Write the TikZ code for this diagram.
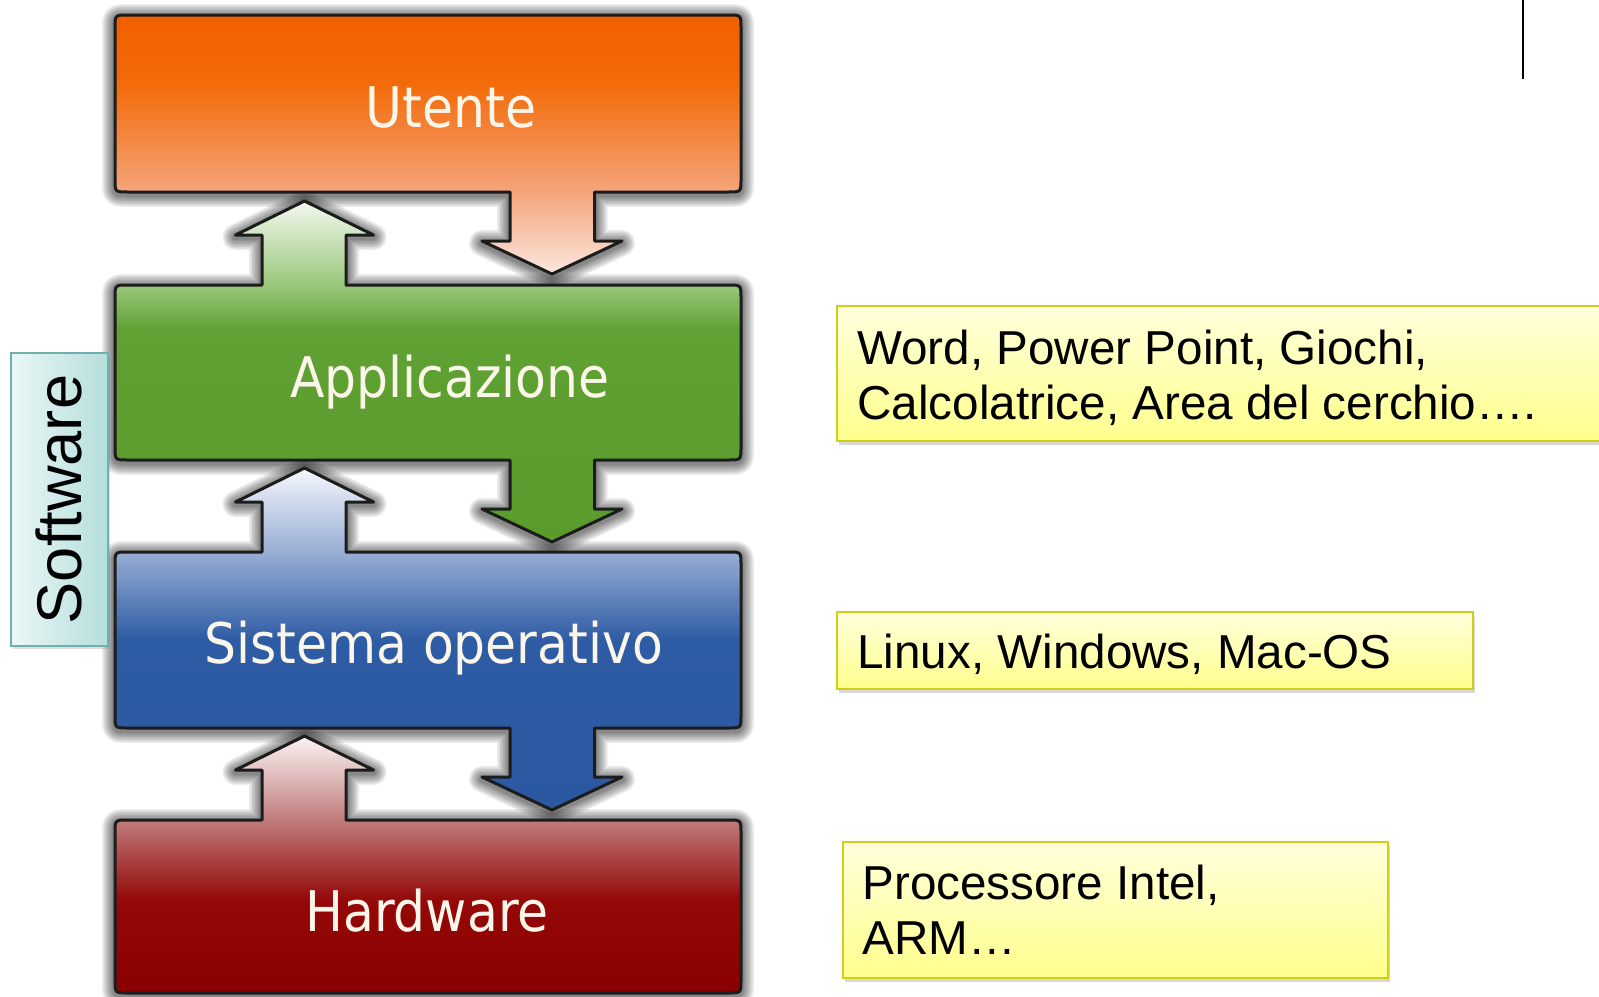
\documentclass[tikz,border=0pt]{standalone}
\usepackage{fontspec}
\setmainfont{Liberation Sans}
\newfontfamily\layerfont[FakeStretch=0.9]{DejaVu Sans}
\usetikzlibrary{shadows}

% layer palette
\definecolor{oTop}{HTML}{F26000}
\definecolor{oMid}{HTML}{F36A08}
\definecolor{oLow}{HTML}{F4A47A}
\definecolor{oTip}{HTML}{FAE6DE}
\definecolor{gTip}{HTML}{F4F9F0}
\definecolor{gTop}{HTML}{98C67A}
\definecolor{gMid}{HTML}{5FA132}
\definecolor{gBot}{HTML}{5A9C2C}
\definecolor{bTip}{HTML}{F5F7FC}
\definecolor{bTop}{HTML}{98AED4}
\definecolor{bMid}{HTML}{2E5CA4}
\definecolor{bBot}{HTML}{2B58A0}
\definecolor{rTip}{HTML}{FBF3F3}
\definecolor{rTop}{HTML}{C07C7C}
\definecolor{rMid}{HTML}{950808}
\definecolor{rBot}{HTML}{8A0000}
\definecolor{lineDark}{HTML}{1C1C1C}
\definecolor{layerTxt}{HTML}{FCF6EA}
% note boxes
\definecolor{yTop}{HTML}{FFFFDC}
\definecolor{yBot}{HTML}{FFFF8C}
\definecolor{yEdge}{HTML}{CFCF1A}
\definecolor{swLeft}{HTML}{EBF7F7}
\definecolor{swRight}{HTML}{B4DEDC}
\definecolor{swEdge}{HTML}{6FAFAD}

% vertical shadings: 25bp = bottom of the shape, 75bp = top
\pgfdeclareverticalshading{orangefill}{100bp}{color(0bp)=(oTip); color(25bp)=(oTip); color(41bp)=(oLow); color(62bp)=(oMid); color(75bp)=(oTop); color(100bp)=(oTop)}
\pgfdeclareverticalshading{greenfill}{100bp}{color(0bp)=(gBot); color(25bp)=(gBot); color(56bp)=(gMid); color(62.6bp)=(gTop); color(75bp)=(gTip); color(100bp)=(gTip)}
\pgfdeclareverticalshading{bluefill}{100bp}{color(0bp)=(bBot); color(25bp)=(bBot); color(49.9bp)=(bMid); color(62.7bp)=(bTop); color(75bp)=(bTip); color(100bp)=(bTip)}
\pgfdeclareverticalshading{redfill}{100bp}{color(0bp)=(rBot); color(25bp)=(rBot); color(43.1bp)=(rMid); color(58.7bp)=(rTop); color(75bp)=(rTip); color(100bp)=(rTip)}

% outlines of the four layers, each joined with its arrows
\def\orangepath{(128,15) -- (728,15) .. controls (741,15) .. (741,28) -- (741,179) .. controls (741,192) .. (728,192) -- (594.5,192) -- (594.5,241) -- (622,241) -- (552,274) -- (482,241) -- (510,241) -- (510,192) -- (128,192) .. controls (115,192) .. (115,179) -- (115,28) .. controls (115,15) .. (128,15) -- cycle}
\def\greenpath{(128,285) -- (262,285) -- (262,235) -- (235.5,235) -- (304.5,201) -- (373.5,235) -- (346,235) -- (346,285) -- (728,285) .. controls (741,285) .. (741,298) -- (741,447) .. controls (741,460) .. (728,460) -- (594.5,460) -- (594.5,509) -- (622,509) -- (552,542) -- (482,509) -- (510,509) -- (510,460) -- (128,460) .. controls (115,460) .. (115,447) -- (115,298) .. controls (115,285) .. (128,285) -- cycle}
\def\bluepath{(128,552) -- (262,552) -- (262,502) -- (235.5,502) -- (304.5,468) -- (373.5,502) -- (346,502) -- (346,552) -- (728,552) .. controls (741,552) .. (741,565) -- (741,715) .. controls (741,728) .. (728,728) -- (594.5,728) -- (594.5,777) -- (622,777) -- (552,810) -- (482,777) -- (510,777) -- (510,728) -- (128,728) .. controls (115,728) .. (115,715) -- (115,565) .. controls (115,552) .. (128,552) -- cycle}
\def\redpath{(128,820) -- (262,820) -- (262,770) -- (235.5,770) -- (304.5,736) -- (373.5,770) -- (346,770) -- (346,820) -- (728,820) .. controls (741,820) .. (741,833) -- (741,980) .. controls (741,993) .. (728,993) -- (128,993) .. controls (115,993) .. (115,980) -- (115,833) .. controls (115,820) .. (128,820) -- cycle}

\tikzset{
  halo/.style={draw=black, opacity=.075, line width=#1, line join=round, yshift=-1pt},
  layeredge/.style={draw=lineDark, line width=1.5pt, line join=round},
  layertext/.style={font=\layerfont\fontsize{28pt}{32pt}\selectfont, text=layerTxt, inner sep=0pt, anchor=base},
  notebox/.style={draw=yEdge, line width=1pt, top color=yTop, bottom color=yBot, anchor=north west, inner sep=0pt,
    drop shadow={opacity=.3, shadow xshift=1pt, shadow yshift=-2pt}},
  notetext/.style={font=\fontsize{23.8pt}{27.5pt}\selectfont, text=black, inner sep=0pt, anchor=base west},
}
% soft dark halo: stacked translucent strokes of decreasing width
\newcommand\layerglow[1]{%
  \foreach \haloW in {13pt,11.5pt,10pt,8.5pt,7pt,5.5pt,4.2pt,3pt}{\path[halo=\haloW] #1;}}

\begin{document}
\begin{tikzpicture}[x=0.5pt, y=-0.5pt]
  \fill[white] (0,0) rectangle (1599,996);
  \useasboundingbox (0,0) rectangle (1599,996);

  % soft halo behind the layer stack
  \layerglow{\orangepath}
  \layerglow{\greenpath}
  \layerglow{\bluepath}
  \layerglow{\redpath}

  % the four layers
  \shadedraw[shading=orangefill, layeredge] \orangepath;
  \shadedraw[shading=greenfill, layeredge] \greenpath;
  \shadedraw[shading=bluefill, layeredge] \bluepath;
  \shadedraw[shading=redfill, layeredge] \redpath;

  \node[layertext] (utente) at (451,127.5) {Utente};
  \node[layertext] (app) at (450,397.5) {Applicazione};
  \node[layertext] (so) at (433.5,663) {Sistema operativo};
  \node[layertext] (hw) at (427,931) {Hardware};

  % side label
  \node[draw=swEdge, line width=1pt, left color=swLeft, right color=swRight, anchor=north west,
        minimum width=48.75pt, minimum height=146.5pt, inner sep=0pt,
        drop shadow={opacity=.25, shadow xshift=1pt, shadow yshift=-1.5pt}] (sw) at (9.5,352) {};
  \node[rotate=90, font=\fontsize{31.6pt}{36pt}\selectfont, inner sep=0pt] (swtext) at (sw.center) {Software};

  % examples for each layer
  \node[notebox, minimum width=387pt, minimum height=67.5pt] (n1) at (836,305) {};
  \node[notetext] (t1) at (857,364) {\vtop{\hbox{Word, Power Point, Giochi,}\hbox{Calcolatrice, Area del cerchio….}}};

  \node[notebox, minimum width=317.75pt, minimum height=38.5pt] (n2) at (836,611) {};
  \node[notetext] (t2) at (857,668) {Linux, Windows, Mac-OS};

  \node[notebox, minimum width=272.25pt, minimum height=68.25pt] (n3) at (842,840.5) {};
  \node[notetext] (t3) at (862,899.5) {\vtop{\hbox{Processore Intel,}\hbox{ARM…}}};

  % rule at the top right
  \coordinate (rtop) at (1522.6,0);
  \coordinate (rbot) at (1522.6,78.5);
  \draw[black, line width=1pt] (rtop) -- (rbot);
\end{tikzpicture}
\end{document}
